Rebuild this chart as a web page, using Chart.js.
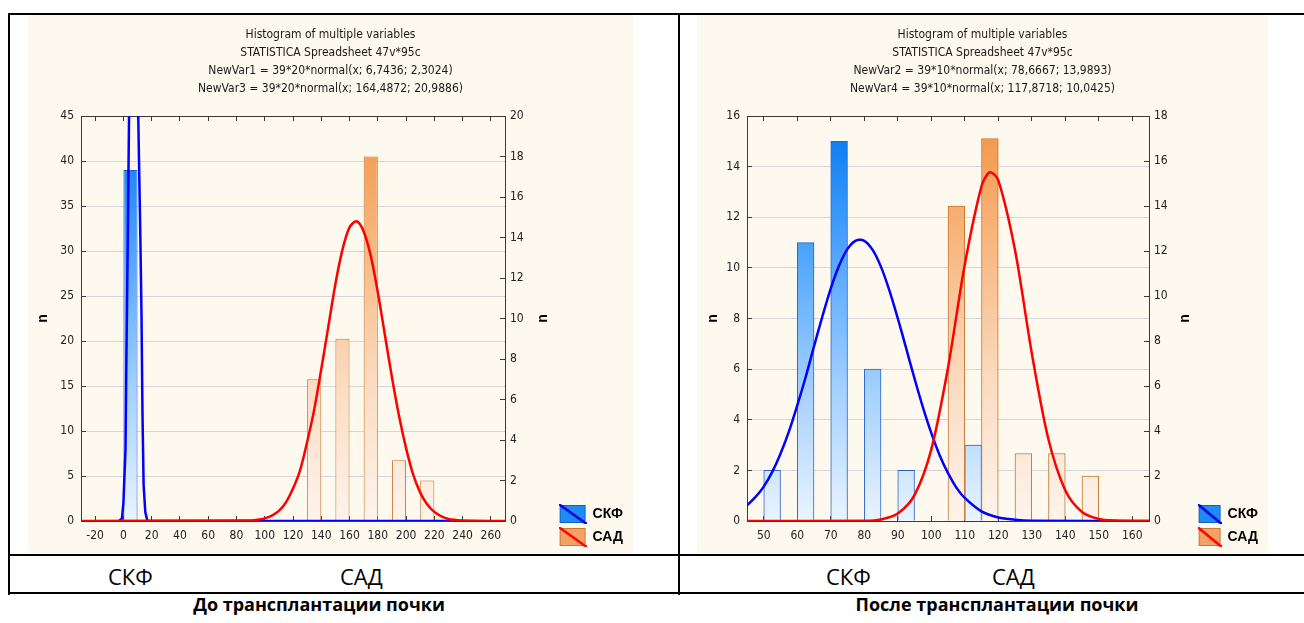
<!DOCTYPE html>
<html>
<head>
<meta charset="utf-8">
<script src="https://cdn.jsdelivr.net/npm/chart.js@4.4.1/dist/chart.umd.min.js"></script>
<style>
  body { margin: 0; background: #fff; width: 1304px; height: 623px; position: relative; overflow: hidden; font-family: "Open Sans", "Noto Sans", sans-serif; }
  .rule { position: absolute; background: #000; }
  .panel { position: absolute; background: #FDF9EE; }
  .cap { position: absolute; font-size: 22px; line-height: 1; color: #000; white-space: nowrap; }
  .sub { position: absolute; width: 420px; font-size: 18px; font-weight: bold; line-height: 1; text-align: center; color: #000; white-space: nowrap; }
</style>
</head>
<body>
<!-- table frame -->
<div class="rule" style="left:8px;top:13px;width:1296px;height:2px"></div>
<div class="rule" style="left:8px;top:13px;width:2px;height:582px"></div>
<div class="rule" style="left:678px;top:13px;width:2px;height:582px"></div>
<div class="rule" style="left:8px;top:554px;width:1296px;height:2px"></div>
<div class="rule" style="left:8px;top:592px;width:1296px;height:2px"></div>

<div class="panel" style="left:28px;top:15px;width:605px;height:538px"><canvas id="beforeChart"></canvas></div>
<div class="panel" style="left:697px;top:15px;width:571px;height:538px"><canvas id="afterChart"></canvas></div>

<div class="cap" style="left:108px;top:565px">СКФ</div>
<div class="cap" style="left:340px;top:565px">САД</div>
<div class="cap" style="left:826px;top:565px">СКФ</div>
<div class="cap" style="left:992px;top:565px">САД</div>
<div class="sub" style="left:109px;top:595px">До трансплантации почки</div>
<div class="sub" style="left:787px;top:595px">После трансплантации почки</div>

<script>
// ---- Before transplantation ----
const titleBefore = [
  "Histogram of multiple variables",
  "STATISTICA Spreadsheet 47v*95c",
  "NewVar1 = 39*20*normal(x; 6,7436; 2,3024)",
  "NewVar3 = 39*20*normal(x; 164,4872; 20,9886)",
];
const xTicksBefore = [-20, 0, 20, 40, 60, 80, 100, 120, 140, 160, 180, 200, 220, 240, 260];
const yLeftTicksBefore = [0, 5, 10, 15, 20, 25, 30, 35, 40, 45];
const yRightTicksBefore = [0, 2, 4, 6, 8, 10, 12, 14, 16, 18, 20];
const skfBinsBefore = [5];
const skfCountsBefore = [39];
const sadBinsBefore = [135, 155, 175, 195, 215];
const sadCountsBefore = [7, 9, 18, 3, 2];
const skfCurveXBefore = [-3, -1, 0, 0.5, 1.5, 2, 3, 4, 5, 7, 9, 10.5, 12, 12.8, 13.5, 14.3, 15.5, 17, 240];
const skfCurveYBefore = [0, 0.3, 2, 4, 8, 16.5, 30, 45, 80, 135, 80, 45, 31.5, 23, 12, 4, 1, 0, 0];
const sadCurveXBefore = [-30, 90, 95, 100, 105, 110, 115, 120, 125, 130, 135, 140, 145, 150, 155, 160, 165,
  170, 175, 180, 185, 190, 195, 200, 205, 210, 215, 220, 225, 230, 235, 240, 270];
const sadCurveYBefore = [0, 0.03, 0.06, 0.13, 0.27, 0.5, 0.92, 1.6, 2.5, 3.9, 5.5, 7.5, 9.6, 11.7, 13.4, 14.5, 14.8,
  14.3, 13.1, 11.3, 9.2, 7.1, 5.2, 3.6, 2.3, 1.4, 0.82, 0.45, 0.23, 0.1, 0.05, 0.02, 0];

// ---- After transplantation ----
const titleAfter = [
  "Histogram of multiple variables",
  "STATISTICA Spreadsheet 47v*95c",
  "NewVar2 = 39*10*normal(x; 78,6667; 13,9893)",
  "NewVar4 = 39*10*normal(x; 117,8718; 10,0425)",
];
const xTicksAfter = [50, 60, 70, 80, 90, 100, 110, 120, 130, 140, 150, 160];
const yLeftTicksAfter = [0, 2, 4, 6, 8, 10, 12, 14, 16];
const yRightTicksAfter = [0, 2, 4, 6, 8, 10, 12, 14, 16, 18];
const skfBinsAfter = [52.5, 62.5, 72.5, 82.5, 92.5, 112.5];
const skfCountsAfter = [2, 11, 15, 6, 2, 3];
const sadBinsAfter = [107.5, 117.5, 127.5, 137.5, 147.5];
const sadCountsAfter = [14, 17, 3, 3, 2];
const skfCurveXAfter = [45, 47.5, 50, 52.5, 55, 57.5, 60, 62.5, 65, 67.5, 70, 72.5, 75, 77.5, 80, 82.5, 85, 87.5, 90,
  92.5, 95, 97.5, 100, 102.5, 105, 107.5, 110, 115, 120, 125, 130, 165];
const skfCurveYAfter = [0.62, 0.94, 1.36, 1.93, 2.66, 3.53, 4.57, 5.68, 6.9, 8.08, 9.18, 10.09, 10.75, 11.08, 11.07, 10.71, 10.04, 9.11, 8.01,
  6.83, 5.63, 4.5, 3.48, 2.6, 1.89, 1.32, 0.91, 0.38, 0.14, 0.05, 0.01, 0];
const sadCurveXAfter = [45, 80, 85, 90, 95, 100, 105, 110, 115, 117.5, 120, 125, 130, 135, 140, 145, 150, 155, 165];
const sadCurveYAfter = [0, 0.01, 0.07, 0.33, 1.15, 3.17, 6.81, 11.39, 14.87, 15.5, 15.15, 12.04, 7.47, 3.62, 1.37, 0.4, 0.09, 0.02, 0];

const legendNames = ["СКФ", "САД"];
const axisLabel = "n";

const NARROW = '"Liberation Sans Narrow", "Arial Narrow", "DejaVu Sans Condensed", sans-serif';
const BOLD_FONT = '"Liberation Sans", Arial, sans-serif';
const tickFont = { family: NARROW, size: 12 };
const frame = "#3a3a3a";

function points(xs, ys) {
  return xs.map((x, i) => ({ x: x, y: ys[i] }));
}

// gradient over the whole plot height, like STATISTICA's bar fill
function plotGradient(stops) {
  return (ctx) => {
    const area = ctx.chart.chartArea;
    if (!area) return stops[stops.length - 1];
    const g = ctx.chart.ctx.createLinearGradient(0, area.bottom, 0, area.top);
    stops.forEach((c, i) => g.addColorStop(i / (stops.length - 1), c));
    return g;
  };
}
const blueStops = ["#EAF4FF", "#A2CFFF", "#4FA4FF", "#0077F0"];
const orangeStops = ["#FEF4EC", "#FBDCC2", "#F8B983", "#F39444"];

// small legend swatch: filled square crossed by the series line
function swatch(w, h, fill, edge, line) {
  const c = document.createElement("canvas");
  c.width = w + 2;
  c.height = h + 2;
  const g = c.getContext("2d");
  g.fillStyle = fill;
  g.fillRect(1, 1, w, h);
  g.strokeStyle = edge;
  g.lineWidth = 1;
  g.strokeRect(1.5, 1.5, w - 1, h - 1);
  g.strokeStyle = line;
  g.lineWidth = 2.5;
  g.beginPath();
  g.moveTo(0, 0);
  g.lineTo(w + 2, h + 2);
  g.stroke();
  return c;
}

// STATISTICA turns the right "n" the same way as the left one
const rightAxisTitle = {
  id: "rightAxisTitle",
  afterDraw(chart, args, opts) {
    const area = chart.chartArea;
    const ctx = chart.ctx;
    ctx.save();
    ctx.translate(area.right + opts.gap, (area.top + area.bottom) / 2);
    ctx.rotate(-Math.PI / 2);
    ctx.font = "bold 14px " + BOLD_FONT;
    ctx.fillStyle = "#000";
    ctx.textAlign = "center";
    ctx.textBaseline = "middle";
    ctx.fillText(axisLabel, 0, 0);
    ctx.restore();
  },
};

function makeChart(id, o) {
  const icons = [
    swatch(o.iconW, 18, "#1E8BF6", "#1560C8", "#0000E0"),
    swatch(o.iconW, 18, "#F4A262", "#C8783A", "#FF0000"),
  ];
  return new Chart(document.getElementById(id), {
    type: "bar",
    plugins: [rightAxisTitle],
    data: {
      datasets: [
        {
          type: "line",
          label: "САД curve",
          data: points(o.sadCurveX, o.sadCurveY),
          yAxisID: "y1",
          borderColor: "#FF0000",
          borderWidth: 2.5,
          pointRadius: 0,
          tension: 0.3,
        },
        {
          type: "line",
          label: "СКФ curve",
          data: points(o.skfCurveX, o.skfCurveY),
          yAxisID: "y",
          borderColor: "#0000FF",
          borderWidth: 2.5,
          pointRadius: 0,
          tension: o.skfTension,
        },
        {
          label: "САД",
          data: points(o.sadBins, o.sadCounts),
          yAxisID: "y1",
          grouped: false,
          barPercentage: o.barPct,
          categoryPercentage: 1,
          backgroundColor: plotGradient(orangeStops),
          borderColor: "#C8762F",
          borderWidth: 1,
        },
        {
          label: "СКФ",
          data: points(o.skfBins, o.skfCounts),
          yAxisID: "y",
          grouped: false,
          barPercentage: o.barPct,
          categoryPercentage: 1,
          backgroundColor: plotGradient(blueStops),
          borderColor: "#2A62CC",
          borderWidth: 1,
        },
      ],
    },
    options: {
      responsive: true,
      maintainAspectRatio: false,
      animation: false,
      events: [],
      layout: { padding: 0 },
      scales: {
        x: {
          type: "linear",
          min: o.xMin,
          max: o.xMax,
          offset: false,
          afterBuildTicks: (s) => { s.ticks = o.xTicks.map((v) => ({ value: v })); },
          afterFit: (s) => { s.height = 32; },
          grid: { drawOnChartArea: false, offset: false, tickLength: -5, tickColor: frame },
          border: { color: frame, width: 1 },
          ticks: { padding: 13, font: tickFont, color: "#222", maxRotation: 0, autoSkip: false },
        },
        xTop: {
          type: "linear",
          position: "top",
          min: o.xMin,
          max: o.xMax,
          offset: false,
          afterBuildTicks: (s) => { s.ticks = o.xTicks.map((v) => ({ value: v })); },
          afterFit: (s) => { s.height = 0; },
          grid: { drawOnChartArea: false, offset: false, tickLength: -5, tickColor: frame },
          border: { color: frame, width: 1 },
          ticks: { display: false },
        },
        y: {
          position: "left",
          min: 0,
          max: o.yLeftTicks[o.yLeftTicks.length - 1],
          afterBuildTicks: (s) => { s.ticks = o.yLeftTicks.map((v) => ({ value: v })); },
          afterFit: (s) => { s.width = o.leftW; },
          grid: { color: "#D6D6D6", tickLength: -5, tickColor: frame },
          border: { color: frame, width: 1 },
          ticks: { padding: 12, font: tickFont, color: "#222" },
          title: {
            display: true,
            text: axisLabel,
            color: "#000",
            font: { family: BOLD_FONT, size: 14, weight: "bold", lineHeight: 1 },
            padding: { top: o.leftTitlePad, bottom: 0 },
          },
        },
        y1: {
          position: "right",
          min: 0,
          max: o.yRightTicks[o.yRightTicks.length - 1],
          afterBuildTicks: (s) => { s.ticks = o.yRightTicks.map((v) => ({ value: v })); },
          afterFit: (s) => { s.width = s.chart.width - s.chart.legend.width - o.plotRight; },
          grid: { drawOnChartArea: false, tickLength: -5, tickColor: frame },
          border: { color: frame, width: 1 },
          ticks: { padding: 10, font: tickFont, color: "#222" },
        },
      },
      plugins: {
        rightAxisTitle: { gap: o.rightTitleGap },
        title: {
          display: true,
          text: o.title,
          color: "#1a1a1a",
          font: { family: NARROW, size: 12, weight: "normal", lineHeight: 1.5 },
          padding: { top: 11, bottom: 18 },
        },
        legend: {
          position: "right",
          align: "end",
          labels: {
            usePointStyle: true,
            pointStyleWidth: o.iconW,
            padding: 9,
            color: "#000",
            font: { family: BOLD_FONT, size: 14, weight: "bold" },
            generateLabels: () => legendNames.map((text, i) => ({
              text: text,
              pointStyle: icons[i],
              fillStyle: "transparent",
              strokeStyle: "transparent",
              lineWidth: 0,
              hidden: false,
              fontColor: "#000",
              datasetIndex: 3 - i,
            })),
          },
        },
        tooltip: { enabled: false },
      },
    },
  });
}

makeChart("beforeChart", {
  title: titleBefore,
  xMin: -30, xMax: 270,
  xTicks: xTicksBefore,
  yLeftTicks: yLeftTicksBefore,
  yRightTicks: yRightTicksBefore,
  skfBins: skfBinsBefore, skfCounts: skfCountsBefore,
  sadBins: sadBinsBefore, sadCounts: sadCountsBefore,
  skfCurveX: skfCurveXBefore, skfCurveY: skfCurveYBefore,
  sadCurveX: sadCurveXBefore, sadCurveY: sadCurveYBefore,
  skfTension: 0,
  barPct: 0.5,
  leftW: 53,
  plotRight: 477,
  leftTitlePad: 8,
  rightTitleGap: 38,
  iconW: 26,
});

makeChart("afterChart", {
  title: titleAfter,
  xMin: 45, xMax: 165,
  xTicks: xTicksAfter,
  yLeftTicks: yLeftTicksAfter,
  yRightTicks: yRightTicksAfter,
  skfBins: skfBinsAfter, skfCounts: skfCountsAfter,
  sadBins: sadBinsAfter, sadCounts: sadCountsAfter,
  skfCurveX: skfCurveXAfter, skfCurveY: skfCurveYAfter,
  sadCurveX: sadCurveXAfter, sadCurveY: sadCurveYAfter,
  skfTension: 0.3,
  barPct: 1,
  leftW: 50,
  plotRight: 452,
  leftTitlePad: 9,
  rightTitleGap: 36,
  iconW: 22,
});
</script>
</body>
</html>
